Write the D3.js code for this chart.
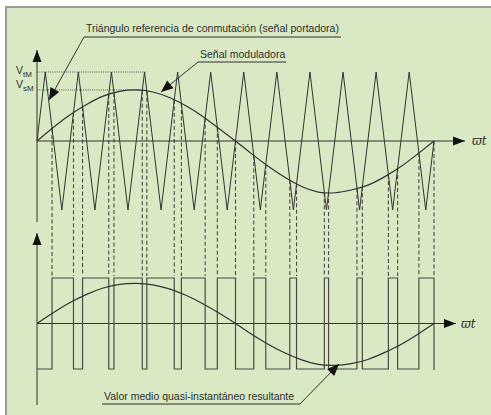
<!DOCTYPE html>
<html>
<head>
<meta charset="utf-8">
<script src="https://cdn.jsdelivr.net/npm/d3@7"></script>
<style>
    html, body { margin: 0; padding: 0; background: #ffffff; }
    #viz { width: 491px; height: 415px; }
    text { font-family: "Liberation Sans", Arial, sans-serif; fill: #2e2e2e; }
</style>
</head>
<body>
<div id="viz"></div>
<script>
//Colores fijos
const COLOR_FONDO = '#d9e9c3',
COLOR_BORDE = '#9a9a9a',
COLOR_LINEA = '#333333',
COLOR_PWM = '#4a4a4a',
COLOR_PUNTOS = '#555555';

//Datos (ángulo en grados, amplitud normalizada)
const angulos = [0, 15, 30, 45, 60, 75, 90, 105, 120, 135, 150, 165, 180,
    195, 210, 225, 240, 255, 270, 285, 300, 315, 330, 345, 360];
const moduladora = [0, 0.20, 0.38, 0.53, 0.65, 0.72, 0.74, 0.71, 0.63, 0.51, 0.36, 0.18, 0,
    -0.19, -0.37, -0.53, -0.66, -0.74, -0.75, -0.71, -0.64, -0.52, -0.37, -0.19, 0];
const valorMedio = [0, 0.24, 0.46, 0.64, 0.78, 0.86, 0.88, 0.85, 0.76, 0.62, 0.44, 0.23, 0,
    -0.24, -0.46, -0.65, -0.80, -0.90, -0.92, -0.88, -0.79, -0.64, -0.46, -0.24, 0];
const picosPortadora = [7.5, 37.5, 67.5, 97.5, 127.5, 157.5, 187.5, 217.5, 247.5, 277.5, 307.5, 337.5];
const vallesPortadora = [22.5, 52.5, 82.5, 112.5, 142.5, 172.5, 202.5, 232.5, 262.5, 292.5, 322.5, 352.5];
const etiquetas = ['Triángulo referencia de conmutación (señal portadora)', 'Señal moduladora',
    'Valor medio quasi-instantáneo resultante'];

//Vértices del triángulo
let portadora = [[0, 0]];
picosPortadora.forEach(function(p, i) {
    portadora.push([p, 1]);
    portadora.push([vallesPortadora[i], -1]);
});
portadora.push([360, 0]);

let svg = d3.select('#viz').append('svg')
    .attr('width', 491)
    .attr('height', 415);

//Fondo y borde
svg.append('rect').attr('x', 5).attr('y', 6).attr('width', 486).attr('height', 409).attr('fill', COLOR_FONDO);
svg.append('path').attr('d', 'M6,415V7H491').attr('fill', 'none').attr('stroke', COLOR_BORDE).attr('stroke-width', 2);

//Escalas
let x = d3.scaleLinear().domain([0, 360]).range([37, 434]);
let yTop = d3.scaleLinear().domain([-1, 1]).range([210, 72]);
let yBot = d3.scaleLinear().domain([-1, 1]).range([369, 278]);

function interp(xs, ys, t) {
    let i = Math.min(Math.max(d3.bisectRight(xs, t), 1), xs.length - 1);
    let k = (t - xs[i - 1]) / (xs[i] - xs[i - 1]);
    return ys[i - 1] + k * (ys[i] - ys[i - 1]);
}
let triX = portadora.map(d => d[0]), triY = portadora.map(d => d[1]);
function diff(t) { return interp(angulos, moduladora, t) - interp(triX, triY, t); }

//Cortes moduladora / portadora
let cortes = [];
let paso = 0.005, prev = diff(paso);
let estadoIni = prev > 0 ? 1 : -1;
for (let t = 2 * paso; t < 360 - paso; t += paso) {
    let d = diff(t);
    if ((d > 0) != (prev > 0)) {
        let tc = t - paso * d / (d - prev);
        cortes.push(tc);
    }
    prev = d;
}

//Líneas discontinuas
let dashes = cortes.concat([360]);
svg.append('g').selectAll('line').data(dashes).enter().append('line')
    .attr('x1', d => x(d)).attr('x2', d => x(d))
    .attr('y1', d => yTop(interp(angulos, moduladora, d)))
    .attr('y2', yBot(1) - 2)
    .attr('stroke', COLOR_PWM).attr('stroke-width', 1.1)
    .attr('stroke-dasharray', '4,2.5');

//Niveles V
svg.append('line').attr('x1', x(0)).attr('x2', 147).attr('y1', yTop(1)).attr('y2', yTop(1))
    .attr('stroke', COLOR_PUNTOS).attr('stroke-dasharray', '1,1.2');
svg.append('line').attr('x1', x(0)).attr('x2', 143).attr('y1', yTop(d3.max(moduladora))).attr('y2', yTop(d3.max(moduladora)))
    .attr('stroke', COLOR_PUNTOS).attr('stroke-dasharray', '1,1.2');

//Flechas
function flecha(x0, y0, x1, y1, len, hw) {
    let a = Math.atan2(y1 - y0, x1 - x0);
    let bx = x1 - len * Math.cos(a), by = y1 - len * Math.sin(a);
    let px = -Math.sin(a) * hw, py = Math.cos(a) * hw;
    svg.append('path')
        .attr('d', 'M' + x1 + ',' + y1 + 'L' + (bx + px) + ',' + (by + py) + 'L' + (bx - px) + ',' + (by - py) + 'Z')
        .attr('fill', '#111');
}
function eje(x0, y0, x1, y1) {
    svg.append('line').attr('x1', x0).attr('y1', y0).attr('x2', x1).attr('y2', y1)
        .attr('stroke', COLOR_LINEA).attr('stroke-width', 1);
    flecha(x0, y0, x1, y1, 12, 4.5);
}

//Ejes
eje(x(0), 222, x(0), 50);
eje(x(0), yTop(0), 465, yTop(0));
eje(x(0), 405, x(0), 233);
eje(x(0), yBot(0), 456, yBot(0));

svg.append('text').attr('x', 472).attr('y', yTop(0) + 4).text('ϖt')
    .style('font-family', '"DejaVu Serif", serif').style('font-style', 'italic').style('font-size', '12px');
svg.append('text').attr('x', 461).attr('y', yBot(0) + 4).text('ϖt')
    .style('font-family', '"DejaVu Serif", serif').style('font-style', 'italic').style('font-size', '12px');

//Portadora
let linea = d3.line().x(d => x(d[0])).y(d => yTop(d[1]));
svg.append('path').datum(portadora).attr('d', linea)
    .attr('fill', 'none').attr('stroke', COLOR_LINEA).attr('stroke-width', 1);

//Moduladora
let curva = d3.line().x(d => x(d[0])).y(d => yTop(d[1])).curve(d3.curveNatural);
svg.append('path').datum(angulos.map((a, i) => [a, moduladora[i]])).attr('d', curva)
    .attr('fill', 'none').attr('stroke', COLOR_LINEA).attr('stroke-width', 1.2);

//PWM
let estado = estadoIni;
let dPwm = 'M' + x(0) + ',' + yBot(estado);
cortes.forEach(function(c) {
    estado = -estado;
    dPwm += 'H' + x(c) + 'V' + yBot(estado);
});
dPwm += 'H' + x(360) + 'V' + (yBot(-1) + 1);
svg.append('path').attr('d', dPwm)
    .attr('fill', 'none').attr('stroke', COLOR_PWM).attr('stroke-width', 1.2);

//Valor medio
let curvaBot = d3.line().x(d => x(d[0])).y(d => yBot(d[1])).curve(d3.curveNatural);
svg.append('path').datum(angulos.map((a, i) => [a, valorMedio[i]])).attr('d', curvaBot)
    .attr('fill', 'none').attr('stroke', COLOR_LINEA).attr('stroke-width', 1.2);

//Etiquetas V
function etiquetaV(y, sub) {
    let t = svg.append('text').attr('x', 16).attr('y', y).style('font-size', '10.5px');
    t.append('tspan').text('V');
    t.append('tspan').attr('dy', 3).style('font-size', '8px').text(sub);
}
etiquetaV(74, 'tM');
etiquetaV(88, 'sM');

//Anotaciones
function anotacion(texto, tx, ty, ux0, ux1, uy, lx, ly) {
    svg.append('text').attr('x', tx).attr('y', ty).style('font-size', '10.5px').text(texto);
    svg.append('line').attr('x1', ux0).attr('x2', ux1).attr('y1', uy).attr('y2', uy)
        .attr('stroke', COLOR_LINEA).attr('stroke-width', 1);
    let sx = (ux0 < lx) ? ux1 : ux0;
    svg.append('line').attr('x1', sx).attr('y1', uy).attr('x2', lx).attr('y2', ly)
        .attr('stroke', COLOR_LINEA).attr('stroke-width', 1);
    flecha(sx, uy, lx, ly, 12, 5);
}
anotacion(etiquetas[0], 86, 32, 84, 341, 37, 49, 100);
anotacion(etiquetas[1], 200, 58, 198, 286, 62, 161, 92);
anotacion(etiquetas[2], 104, 400, 102, 300, 404, 339, 364);
</script>
</body>
</html>
